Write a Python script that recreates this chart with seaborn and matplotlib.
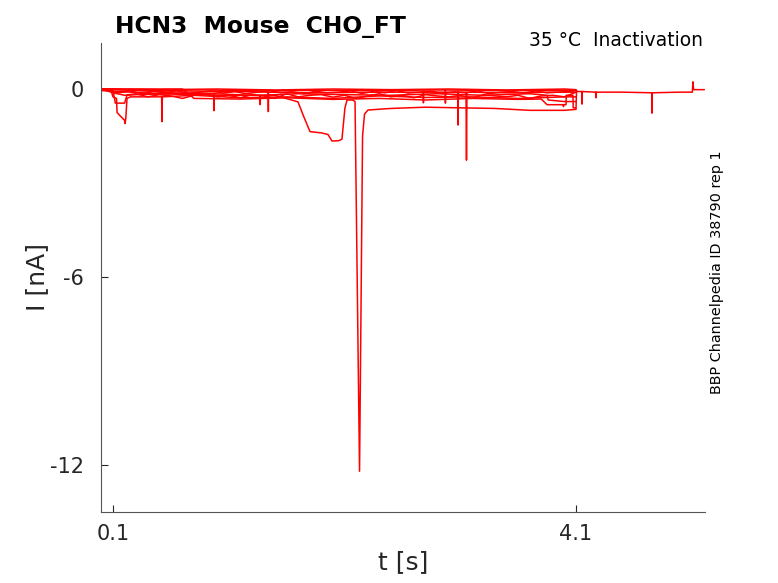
import numpy as np
import pandas as pd
import matplotlib
matplotlib.use("Agg")
import matplotlib.pyplot as plt
import seaborn as sns

# sweeps of the inactivation protocol (t in s, I in nA)
t1 = [0, 0.1, 0.5, 1.0, 1.5, 2.0, 2.5, 3.0, 3.5, 4.0, 4.1, 4.11, 4.15, 4.152, 4.154,
      4.27, 4.272, 4.274, 4.5, 4.755, 4.757, 4.759, 5.0, 5.105, 5.111, 5.116, 5.21]
i1 = [0, 0, -0.02, 0, -0.03, 0, -0.02, 0, -0.03, 0, -0.02, -0.08, -0.08, -0.48, -0.08,
      -0.1, -0.28, -0.1, -0.1, -0.12, -0.77, -0.12, -0.1, -0.1, 0.23, -0.02, -0.02]

t2 = [0, 0.08, 0.1, 0.13, 0.135, 0.16, 0.2, 0.204, 0.21, 0.221, 0.25, 0.5, 0.52, 0.523,
      0.526, 0.8, 1.2, 1.6, 2.0, 2.4, 2.8, 3.2, 3.6, 4.0, 4.1]
i2 = [0, -0.02, -0.25, -0.3, -0.75, -0.85, -1.0, -1.1, -0.95, -0.3, -0.25, -0.25, -0.25,
      -1.04, -0.25, -0.2, -0.28, -0.25, -0.3, -0.22, -0.27, -0.25, -0.3, -0.25, -0.25]

t3 = [0, 0.1, 0.12, 0.2, 0.22, 0.3, 0.6, 0.97, 0.973, 0.976, 1.3, 1.37, 1.372, 1.374,
      1.7, 2.1, 2.5, 2.9, 3.3, 3.7, 3.85, 3.86, 4.0, 4.1]
i3 = [0, -0.05, -0.45, -0.45, -0.2, -0.18, -0.15, -0.15, -0.69, -0.15, -0.2, -0.2, -0.5,
      -0.2, -0.15, -0.18, -0.2, -0.15, -0.2, -0.15, -0.2, -0.35, -0.4, -0.4]

t4 = [0, 0.5, 1.0, 1.5, 1.698, 1.75, 1.802, 1.9, 1.957, 1.992, 2.05, 2.078, 2.104, 2.122,
      2.17, 2.191, 2.23, 2.256, 2.273, 2.303, 2.5, 2.8, 3.1, 3.4, 3.7, 4.0, 4.1, 4.105]
i4 = [-0.05, -0.15, -0.2, -0.2, -0.41, -0.9, -1.36, -1.4, -1.45, -1.66, -1.65, -1.6, -0.6,
      -0.35, -0.35, -0.4, -12.2, -1.5, -0.8, -0.67, -0.62, -0.58, -0.6, -0.62, -0.68,
      -0.68, -0.65, -0.05]

t5 = [0, 0.6, 1.2, 1.44, 1.442, 1.444, 1.8, 2.4, 2.78, 2.782, 2.784, 3.0, 3.078, 3.081,
      3.084, 3.15, 3.154, 3.158, 3.5, 3.9, 4.1]
i5 = [0, -0.1, -0.08, -0.1, -0.72, -0.1, -0.12, -0.1, -0.1, -0.44, -0.1, -0.1, -0.1,
      -1.15, -0.1, -0.1, -2.27, -0.1, -0.12, -0.1, -0.1]

t6 = [0, 0.4, 0.9, 1.4, 1.9, 2.4, 2.9, 2.97, 2.972, 2.974, 3.4, 3.9, 4.1]
i6 = [0, -0.05, -0.03, -0.06, -0.04, -0.05, -0.03, -0.03, -0.45, -0.03, -0.05, -0.04, -0.04]

t7 = [0, 0.7, 0.8, 1.2, 1.6, 2.0, 2.4, 2.8, 3.2, 3.6, 3.8, 3.85, 3.9, 3.99, 3.992,
      3.994, 4.014, 4.016, 4.074, 4.076, 4.1]
i7 = [0, 0, -0.3, -0.32, -0.28, -0.33, -0.3, -0.35, -0.3, -0.33, -0.32, -0.5, -0.5, -0.5,
      -0.56, -0.5, -0.5, -0.2, -0.2, -0.6, -0.6]

# two noisy sweeps that fill the band just under zero
t8 = [0.0, 0.1, 0.2, 0.3, 0.4, 0.5, 0.6, 0.7, 0.8, 0.9, 1.0, 1.1, 1.2, 1.3, 1.4,
      1.5, 1.6, 1.7, 1.8, 1.9, 2.0, 2.1, 2.2, 2.3, 2.4, 2.5, 2.6, 2.7, 2.8, 2.9,
      3.0, 3.1, 3.2, 3.3, 3.4, 3.5, 3.6, 3.7, 3.8, 3.9, 4.0, 4.1]
i8 = [0.0, -0.12, -0.2, -0.15, -0.25, -0.18, -0.22, -0.3, -0.2, -0.15, -0.25, -0.2,
      -0.28, -0.18, -0.22, -0.3, -0.15, -0.25, -0.2, -0.18, -0.26, -0.2, -0.3, -0.22,
      -0.15, -0.25, -0.2, -0.28, -0.18, -0.22, -0.25, -0.2, -0.3, -0.18, -0.22, -0.25,
      -0.2, -0.3, -0.22, -0.2, -0.25, -0.1]

t9 = [0.0, 0.05, 0.15, 0.25, 0.35, 0.45, 0.55, 0.65, 0.75, 0.85, 0.95, 1.05, 1.15,
      1.25, 1.35, 1.45, 1.55, 1.65, 1.75, 1.85, 1.95, 2.05, 2.15, 2.25, 2.35, 2.45,
      2.55, 2.65, 2.75, 2.85, 2.95, 3.05, 3.15, 3.25, 3.35, 3.45, 3.55, 3.65, 3.75,
      3.85, 3.95, 4.05, 4.1]
i9 = [0.0, -0.05, -0.12, -0.06, -0.15, -0.08, -0.12, -0.05, -0.14, -0.1, -0.06,
      -0.13, -0.08, -0.15, -0.1, -0.05, -0.12, -0.09, -0.15, -0.07, -0.12, -0.1,
      -0.06, -0.14, -0.08, -0.12, -0.05, -0.13, -0.1, -0.07, -0.14, -0.09, -0.12,
      -0.06, -0.15, -0.1, -0.08, -0.13, -0.06, -0.12, -0.1, -0.08, -0.05]

traces = [(t1, i1), (t2, i2), (t3, i3), (t4, i4), (t5, i5), (t6, i6), (t7, i7),
          (t8, i8), (t9, i9)]

frames = []
for k, (t, cur) in enumerate(traces):
    frames.append(pd.DataFrame({"t": t, "I": cur, "sweep": k}))
df = pd.concat(frames, ignore_index=True)

sns.set_style("ticks")
plt.rcParams["font.family"] = ["DejaVu Sans"]
plt.rcParams["xtick.direction"] = "in"
plt.rcParams["ytick.direction"] = "in"

fig = plt.figure(figsize=(7.78, 5.83), dpi=100)
ax = fig.add_axes([0.1298, 0.1218, 0.7764, 0.8045])

sns.lineplot(data=df, x="t", y="I", units="sweep", estimator=None, sort=False,
             color="red", lw=1.1, ax=ax)

ax.set_xlim(-0.004, 5.215)
ax.set_ylim(-13.5, 1.47)
ax.set_xticks([0.1, 4.1])
ax.set_xticklabels(["0.1", "4.1"])
ax.set_yticks([0, -6, -12])
ax.set_yticklabels(["0", "-6", "-12"])
ax.tick_params(labelsize=15, colors="#262626", length=5, width=0.8)
ax.tick_params(axis="x", pad=9)
ax.tick_params(axis="y", pad=12)
sns.despine(ax=ax)
ax.spines["left"].set_color("#555555")
ax.spines["bottom"].set_color("#555555")

ax.set_xlabel("t [s]", fontsize=18, color="#262626")
ax.set_ylabel("I [nA]", fontsize=18, color="#262626", labelpad=1)

fig.text(0.148, 0.955, "HCN3  Mouse  CHO_FT", fontsize=16.8, fontweight="bold",
         color="black", ha="left", va="center")
fig.text(0.903, 0.931, "35 °C  Inactivation", fontsize=13.5, color="black",
         ha="right", va="center")
fig.text(0.921, 0.533, "BBP Channelpedia ID 38790 rep 1", fontsize=10.4,
         color="black", rotation=90, ha="center", va="center")

fig.savefig("out.png", dpi=100)
